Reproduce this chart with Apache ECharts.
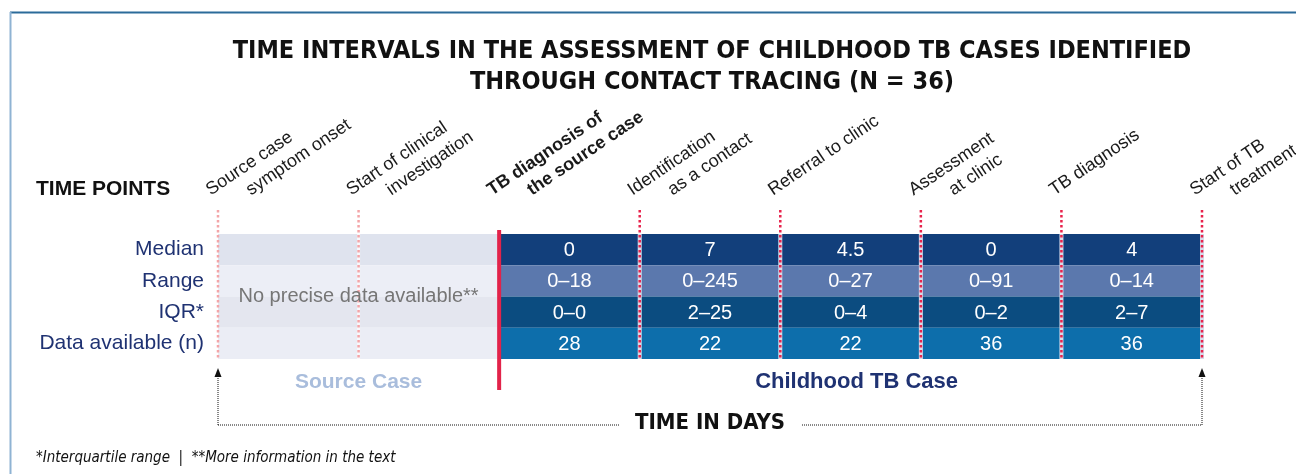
<!DOCTYPE html>
<html>
<head>
<meta charset="utf-8">
<script src="https://cdn.jsdelivr.net/npm/echarts@6/dist/echarts.min.js"></script>
<style>
  html, body { margin: 0; padding: 0; background: #fff; }
  #main { width: 1296px; height: 474px; }
</style>
</head>
<body>
<div id="main"></div>
<script>
// time points along the top, one per column boundary
var timePoints = [
    'Source case\nsymptom onset',
    'Start of clinical\ninvestigation',
    'TB diagnosis of\nthe source case',
    'Identification\nas a contact',
    'Referral to clinic',
    'Assessment\nat clinic',
    'TB diagnosis',
    'Start of TB\ntreatment'
];
var rowLabels = ['Median', 'Range', 'IQR*', 'Data available (n)'];
var medianDays = ['0', '7', '4.5', '0', '4'];
var rangeDays = ['0–18', '0–245', '0–27', '0–91', '0–14'];
var iqrDays = ['0–0', '2–25', '0–4', '0–2', '2–7'];
var dataAvailable = [28, 22, 22, 36, 36];
var sourceNote = 'No precise data available**';
var groupNames = ['Source Case', 'Childhood TB Case'];
var groupFrom = [0, 2];
var groupTo = [2, 7];

var SANS = "'Liberation Sans', Arial, sans-serif";
var NARROW = "'Liberation Sans Narrow', 'Arial Narrow', 'DejaVu Sans Condensed', sans-serif";
var rowColors = ['#123f7b', '#5b78ad', '#0b4c80', '#0d6eab'];
var sourceColors = ['#dfe3ee', '#eceef6', '#e4e6ef', '#ebedf5'];
var ROT = 34 * Math.PI / 180;

// build the table cells
var cells = [];
var rows = [medianDays, rangeDays, iqrDays, dataAvailable];
rowLabels.forEach(function (r, ri) {
    cells.push({ c0: 0, c1: 2, row: ri, text: '', source: true });
});
rows.forEach(function (vals, ri) {
    vals.forEach(function (v, j) {
        cells.push({ c0: 2 + j, c1: 3 + j, row: ri, text: String(v), source: false });
    });
});

function tableBox(api) {
    var band = api.size([0, 1])[1];
    return {
        top: api.coord([0, 0])[1] - band / 2,
        bottom: api.coord([0, rowLabels.length - 1])[1] + band / 2
    };
}

function renderCell(params, api) {
    var c = cells[params.dataIndex];
    var p0 = api.coord([c.c0, c.row]);
    var p1 = api.coord([c.c1, c.row]);
    var h = api.size([0, 1])[1];
    return {
        type: 'group',
        children: [
            {
                type: 'rect',
                shape: { x: p0[0], y: p0[1] - h / 2, width: p1[0] - p0[0], height: h },
                style: { fill: c.source ? sourceColors[c.row] : rowColors[c.row] }
            },
            {
                type: 'text',
                style: {
                    text: c.text, x: (p0[0] + p1[0]) / 2, y: p0[1] + 1,
                    align: 'center', verticalAlign: 'middle',
                    fill: '#ffffff', fontSize: 20, fontFamily: SANS
                }
            }
        ]
    };
}

function renderTimePoint(params, api) {
    var i = params.dataIndex;
    var x = api.coord([i, 0])[0];
    var box = tableBox(api);
    var kids = [];
    if (i < 2) {
        if (i == 1) {
            kids.push({ type: 'rect', shape: { x: x - 1.5, y: box.top, width: 3, height: box.bottom - box.top }, style: { fill: '#f8f8fb' } });
        }
        kids.push({ type: 'line', shape: { x1: x, y1: box.top - 24, x2: x, y2: box.bottom },
            style: { stroke: '#f3a5a8', lineWidth: 2.5, lineDash: [2.5, 2.5] } });
    } else if (i == 2) {
        kids.push({ type: 'rect', shape: { x: x - 2, y: box.top - 4, width: 4, height: box.bottom - box.top + 35 }, style: { fill: '#e2234a' } });
    } else {
        kids.push({ type: 'rect', shape: { x: x - 2, y: box.top, width: 4, height: box.bottom - box.top }, style: { fill: '#d6d9e8' } });
        kids.push({ type: 'line', shape: { x1: x, y1: box.top - 24, x2: x, y2: box.bottom },
            style: { stroke: '#e8234c', lineWidth: 2.5, lineDash: [2.5, 2.5] } });
    }
    // rotated label, each line starts on the same baseline
    timePoints[i].split('\n').forEach(function (line, j) {
        kids.push({
            type: 'text', x: x - 5 + j * 40, y: box.top - 35, rotation: ROT,
            style: {
                text: line, x: 0, y: 0, align: 'left', verticalAlign: 'bottom',
                fill: '#1a1a1a', fontSize: 18, fontFamily: SANS,
                fontWeight: i == 2 ? 'bold' : 'normal'
            }
        });
    });
    // arrows at both ends of the time span
    if (i == 0 || i == timePoints.length - 1) {
        kids.push({ type: 'line', shape: { x1: x, y1: box.bottom + 66, x2: x, y2: box.bottom + 15 },
            style: { stroke: '#111', lineWidth: 1, lineDash: [1, 1] } });
        kids.push({ type: 'polygon', shape: { points: [[x, box.bottom + 9], [x - 3.5, box.bottom + 18], [x + 3.5, box.bottom + 18]] },
            style: { fill: '#111' } });
    }
    if (i == 0) {
        var xEnd = api.coord([timePoints.length - 1, 0])[0];
        kids.push({ type: 'line', shape: { x1: x, y1: box.bottom + 66, x2: xEnd, y2: box.bottom + 66 },
            style: { stroke: '#111', lineWidth: 1, lineDash: [1, 1] } });
        kids.push({
            type: 'text',
            style: {
                text: 'TIME IN DAYS', x: (x + xEnd) / 2, y: box.bottom + 64,
                align: 'center', verticalAlign: 'middle',
                fill: '#111', fontSize: 22, fontWeight: 'bold', fontFamily: NARROW,
                backgroundColor: '#fff', padding: [2, 16]
            }
        });
    }
    return { type: 'group', children: kids };
}

function renderGroup(params, api) {
    var g = params.dataIndex;
    var x0 = api.coord([groupFrom[g], 0])[0];
    var x1 = api.coord([groupTo[g], 0])[0];
    var box = tableBox(api);
    var kids = [{
        type: 'text',
        style: {
            text: groupNames[g], x: (x0 + x1) / 2 + (g == 1 ? 6 : 0), y: box.bottom + 23,
            align: 'center', verticalAlign: 'middle',
            fill: g == 0 ? '#a9bddc' : '#1f3272', fontSize: g == 0 ? 21 : 22, fontWeight: 'bold', fontFamily: SANS
        }
    }];
    if (g == 0) {
        kids.push({
            type: 'text',
            style: {
                text: sourceNote, x: (x0 + x1) / 2, y: (box.top + box.bottom) / 2,
                align: 'center', verticalAlign: 'middle',
                fill: '#767676', fontSize: 20, fontFamily: SANS
            }
        });
    }
    return { type: 'group', children: kids };
}

var chart = echarts.init(document.getElementById('main'));
chart.setOption({
    animation: false,
    backgroundColor: '#ffffff',
    title: {
        text: 'TIME INTERVALS IN THE ASSESSMENT OF CHILDHOOD TB CASES IDENTIFIED\nTHROUGH CONTACT TRACING (N = 36)',
        left: 712, top: 36, textAlign: 'center', padding: 0,
        textStyle: { fontFamily: NARROW, fontSize: 25, fontWeight: 'bold', color: '#111', lineHeight: 31 }
    },
    grid: { left: 218, right: 94, top: 234, bottom: 115 },
    xAxis: { type: 'value', min: 0, max: 7, show: false },
    yAxis: {
        type: 'category', data: rowLabels, inverse: true,
        axisLine: { show: false }, axisTick: { show: false }, splitLine: { show: false },
        axisLabel: { color: '#1f3272', fontSize: 21, fontFamily: SANS, margin: 14 }
    },
    graphic: [
        { type: 'line', shape: { x1: 10, y1: 12.5, x2: 1296, y2: 12.5 }, style: { stroke: '#2b6b9a', lineWidth: 2 } },
        { type: 'line', shape: { x1: 10.5, y1: 12, x2: 10.5, y2: 474 }, style: { stroke: '#8fb3d3', lineWidth: 2 } },
        { type: 'text', left: 36, top: 179, style: { text: 'TIME POINTS', fill: '#111', fontSize: 21, fontWeight: 'bold', fontFamily: SANS } },
        { type: 'text', left: 36, top: 451, style: { text: '*Interquartile range  |  **More information in the text', fill: '#111', fontSize: 15, fontStyle: 'italic', fontFamily: NARROW } }
    ],
    series: [
        {
            type: 'custom', name: 'cells', z: 2,
            renderItem: renderCell,
            encode: { x: [0, 1], y: 2 },
            data: cells.map(function (c) { return [c.c0, c.c1, c.row]; })
        },
        {
            type: 'custom', name: 'timePoints', z: 3,
            renderItem: renderTimePoint,
            encode: { x: 0, y: 1 },
            data: timePoints.map(function (t, i) { return [i, 0]; })
        },
        {
            type: 'custom', name: 'groups', z: 4,
            renderItem: renderGroup,
            encode: { x: [0, 1], y: 2 },
            data: groupNames.map(function (n, g) { return [groupFrom[g], groupTo[g], 0]; })
        }
    ]
});
</script>
</body>
</html>
